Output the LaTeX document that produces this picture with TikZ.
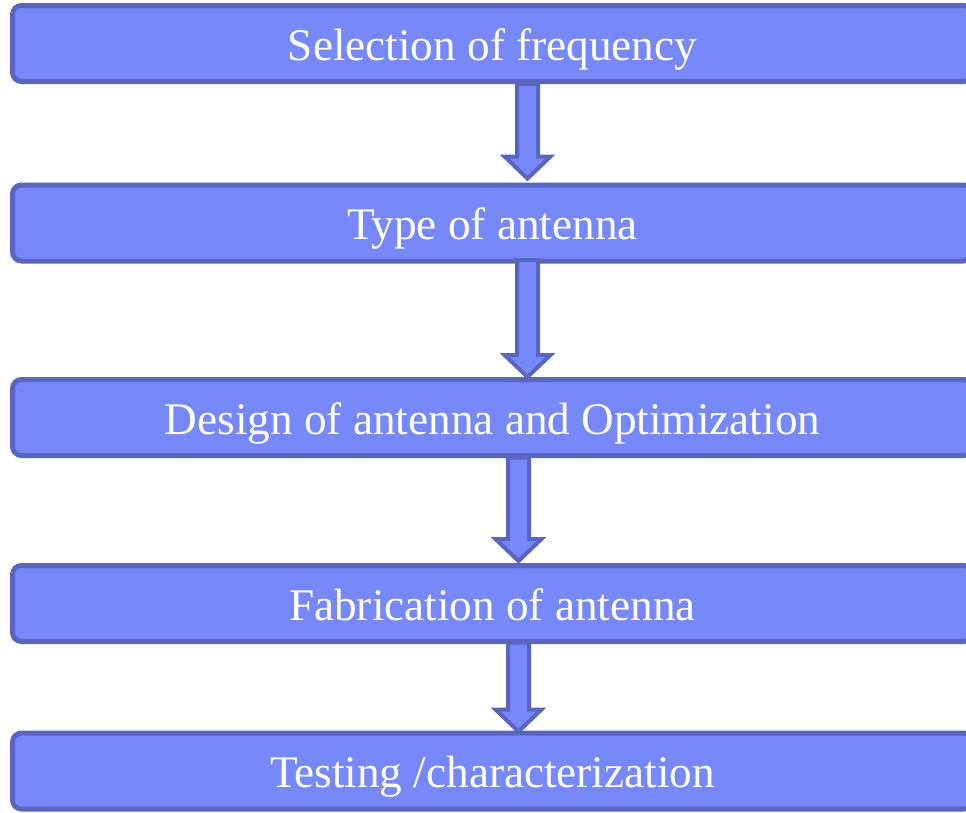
\documentclass[tikz,border=0pt]{standalone}
\usepackage{fontspec}
\setmainfont{Liberation Serif}
\usepackage{tikz}
\usetikzlibrary{calc}
\definecolor{boxfill}{RGB}{119,137,250}
\definecolor{boxline}{RGB}{89,101,190}
\tikzset{stage/.style={rectangle,rounded corners=9pt,draw=boxline,fill=boxfill,line width=5pt,
    minimum width=960pt,minimum height=76pt,inner sep=0pt,text=white,
    text height=33pt,text depth=0pt,font=\fontsize{45.2}{54}\selectfont},
  arrowbox/.style={draw=boxline,fill=boxfill,line width=4pt,line join=miter}}
% block arrow pointing down from #1 to #2
\newcommand{\flowarrow}[2]{%
  \path[arrowbox] let \p1=(#1), \p2=(#2) in
    (\x1-10.5,\y1) -- (\x1+10.5,\y1) -- (\x1+10.5,\y2+22) -- (\x1+23,\y2+22) -- (\x1,\y2)
    -- (\x1-23,\y2+22) -- (\x1-10.5,\y2+22) -- cycle;}

\begin{document}
\begin{tikzpicture}[x=1pt,y=1pt]
\useasboundingbox (0,0) rectangle (966,-812);
\clip (0,0) rectangle (966,-812);
\node[stage] (freq) at (492.5,-43.5) {Selection of frequency};
\node[stage] (type) at (492.5,-223) {Type of antenna};
\node[stage] (design) at (492.5,-417.5) {Design of antenna and Optimization};
\node[stage] (fab) at (492.5,-603.5) {Fabrication of antenna};
\node[stage] (test) at (492.5,-771) {Testing /characterization};
% arrows between the stages
\coordinate (a1s) at ($(freq.south)+(35,0)$);
\coordinate (a1e) at ($(type.north)+(35,4)$);
\coordinate (a2s) at ($(type.south)+(35,3.5)$);
\coordinate (a2e) at ($(design.north)+(35,0)$);
\coordinate (a3s) at ($(design.south)+(26,0.5)$);
\coordinate (a3e) at ($(fab.north)+(26,2)$);
\coordinate (a4s) at ($(fab.south)+(26,1.5)$);
\coordinate (a4e) at ($(test.north)+(26,-1)$);
\flowarrow{a1s}{a1e}
\flowarrow{a2s}{a2e}
\flowarrow{a3s}{a3e}
\flowarrow{a4s}{a4e}
\end{tikzpicture}
\end{document}
